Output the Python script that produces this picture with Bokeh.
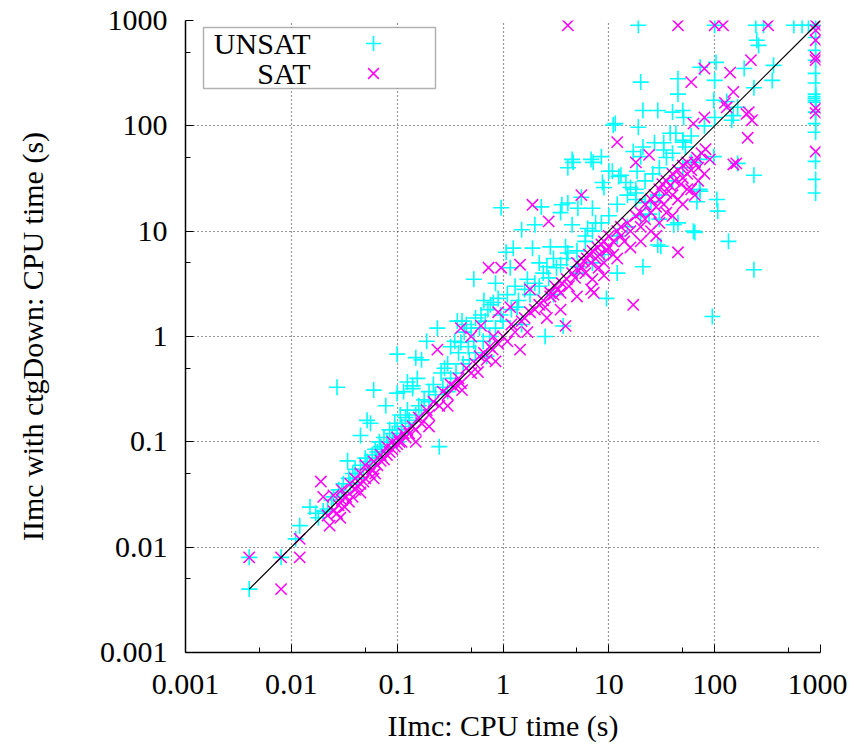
from bokeh.plotting import figure
from bokeh.models import FixedTicker, Legend, LegendItem, BoxAnnotation, Label, ColumnDataSource
from bokeh.embed import file_html
from bokeh.resources import INLINE

# ---------------- data ----------------
tick_values = [0.001, 0.01, 0.1, 1, 10, 100, 1000]
tick_labels = ["0.001", "0.01", "0.1", "1", "10", "100", "1000"]
minor_tick_values = [0.005, 0.05, 0.5, 5, 50, 500]

diag_x = [0.004, 1000]
diag_y = [0.004, 1000]

unsat_points = [
    (0.004, 0.004), (0.004, 0.008), (0.008, 0.008), (0.011, 0.012), (0.012, 0.016),
    (0.015, 0.024), (0.017, 0.021), (0.018, 0.019), (0.022, 0.023), (0.027, 0.33),
    (0.025, 0.03), (0.028, 0.035), (0.031, 0.04), (0.034, 0.066), (0.035, 0.045),
    (0.038, 0.05), (0.04, 0.055), (0.042, 0.045), (0.045, 0.115), (0.045, 0.06),
    (0.05, 0.07), (0.052, 0.16), (0.052, 0.065), (0.056, 0.15), (0.058, 0.075),
    (0.06, 0.31), (0.062, 0.085), (0.065, 0.08), (0.068, 0.1), (0.07, 0.09),
    (0.075, 0.11), (0.078, 0.22), (0.08, 0.1), (0.085, 0.13), (0.09, 0.12),
    (0.095, 0.15), (0.1, 0.68), (0.1, 0.29), (0.1, 0.13), (0.107, 0.18),
    (0.11, 0.14), (0.115, 0.3), (0.12, 0.17), (0.125, 0.2), (0.125, 0.37),
    (0.13, 0.16), (0.14, 0.32), (0.14, 0.34), (0.15, 0.63), (0.155, 0.4),
    (0.16, 0.22), (0.17, 0.6), (0.18, 0.25), (0.19, 0.9), (0.2, 0.3),
    (0.22, 0.35), (0.24, 1.2), (0.25, 0.09), (0.26, 0.45), (0.28, 0.5),
    (0.3, 0.55), (0.32, 0.8), (0.35, 0.9), (0.37, 1.4), (0.38, 0.7),
    (0.4, 0.88), (0.41, 1.4), (0.43, 1.1), (0.45, 1.3), (0.47, 0.8),
    (0.5, 1.2), (0.53, 3.5), (0.53, 0.9), (0.55, 1.5), (0.6, 1.2),
    (0.62, 1.6), (0.66, 2.2), (0.68, 1.4), (0.72, 1.8), (0.76, 2.0),
    (0.81, 2.1), (0.85, 3.2), (0.9, 2.3), (0.95, 1.6),
    (0.96, 16.7), (1.07, 6.3), (1.1, 2.5), (1.17, 4.5), (1.25, 6.9),
    (1.3, 3.0), (1.36, 1.9), (1.5, 10.3), (1.6, 2.8), (1.7, 3.5),
    (1.9, 6.9), (2.0, 11.5), (2.0, 3.2), (2.2, 5.0), (2.3, 17),
    (2.4, 4.0), (2.5, 1.0), (2.6, 4.6), (2.8, 7.1), (3.0, 5.5),
    (3.5, 15), (3.5, 4.8), (3.6, 17.8), (3.7, 1.26), (3.9, 7.1),
    (4.1, 18.5), (4.1, 40), (4.1, 6.2), (4.5, 11.5), (4.5, 48),
    (4.6, 45), (5.1, 16.5), (5.1, 4.6), (5.5, 21), (6.0, 9.0),
    (6.3, 10.6), (6.8, 48), (7.0, 16.5), (7.1, 45), (7.5, 12),
    (8.5, 51), (8.7, 29), (9.0, 26), (9.5, 2.3), (10, 37),
    (10.8, 37), (11, 102), (11.5, 105), (12, 4.0), (12.4, 33),
    (13, 34), (14.5, 29), (16, 26), (17, 57), (18, 20),
    (18, 23), (18.5, 37), (19, 97), (19, 900), (20, 260),
    (20, 51), (21, 140), (21, 63), (21, 4.6), (22, 18.6),
    (24, 14.5), (27, 69), (29, 140), (29, 7.4), (30, 13),
    (31, 7.2), (33, 69), (33, 59), (38, 85), (40, 135),
    (41, 11.5), (43, 85), (45, 280), (45, 200), (45, 12),
    (50, 140), (50, 73), (51, 120), (53, 63), (63, 10),
    (65, 9.7), (68, 19), (72, 25), (73, 360), (73, 48),
    (73, 24), (95, 1.55), (98, 175), (98, 51), (100, 900),
    (100, 270), (103, 400), (105, 20), (107, 15.5), (135, 8),
    (145, 113), (150, 125), (165, 150), (165, 44), (190, 350),
    (235, 230), (235, 34), (235, 4.3), (245, 900), (250, 650),
    (260, 580), (290, 900), (350, 270), (360, 375), (560, 900),
    (670, 900), (770, 900),
    (900, 900), (900, 690), (900, 520), (900, 420), (900, 315), (900, 255),
    (900, 200), (900, 190), (900, 183), (900, 175), (900, 168), (900, 135),
    (900, 105), (900, 87), (900, 46), (900, 31), (900, 23),
    (0.02, 0.022), (0.024, 0.028), (0.03, 0.033), (0.036, 0.04), (0.048, 0.055),
    (0.055, 0.06), (0.063, 0.07), (0.072, 0.08), (0.082, 0.09), (0.092, 0.1),
    (0.11, 0.12), (0.13, 0.15), (0.15, 0.18), (0.17, 0.2), (0.2, 0.24),
    (0.23, 0.28), (0.27, 0.33), (0.32, 0.4), (0.36, 0.45), (0.42, 0.55),
    (0.48, 0.6), (0.55, 0.7), (0.65, 0.9), (0.75, 1.0), (0.85, 1.2),
    (1.0, 1.4), (1.2, 1.8), (1.4, 2.2), (1.8, 2.5), (2.2, 3.0),
    (2.7, 3.6), (3.2, 4.5), (4.0, 5.5), (5.0, 6.5), (6.0, 8.0),
    (7.0, 10), (8.5, 12), (10, 14), (12, 18), (15, 22),
    (18, 25), (22, 30), (26, 35), (30, 40), (35, 50),
    (40, 55), (50, 70), (60, 80), (80, 100), (100, 120), (130, 170),
    (7, 5), (9, 6), (12, 9), (15, 11), (20, 14), (25, 19), (30, 22),
    (40, 30), (50, 40), (60, 45), (3, 2.5), (5, 4), (1.5, 1.3),
    (0.7, 0.65), (0.3, 0.3), (0.1, 0.1),
]

sat_points = [
    (0.004, 0.008), (0.008, 0.008), (0.008, 0.004), (0.012, 0.008), (0.012, 0.012),
    (0.019, 0.042), (0.02, 0.03), (0.022, 0.02), (0.023, 0.016), (0.025, 0.031),
    (0.025, 0.022), (0.027, 0.021), (0.028, 0.025), (0.029, 0.019), (0.03, 0.028),
    (0.03, 0.035), (0.032, 0.024), (0.033, 0.03), (0.035, 0.027), (0.036, 0.04),
    (0.038, 0.03), (0.04, 0.035), (0.04, 0.045), (0.042, 0.038), (0.045, 0.04),
    (0.045, 0.05), (0.048, 0.042), (0.05, 0.06), (0.05, 0.045), (0.055, 0.05),
    (0.058, 0.055), (0.06, 0.065), (0.062, 0.05), (0.065, 0.06), (0.07, 0.066),
    (0.07, 0.075), (0.075, 0.068), (0.08, 0.075), (0.08, 0.09), (0.085, 0.08),
    (0.09, 0.085), (0.09, 0.1), (0.095, 0.09), (0.1, 0.095), (0.1, 0.11),
    (0.105, 0.1), (0.11, 0.1), (0.115, 0.12), (0.12, 0.11), (0.125, 0.13),
    (0.13, 0.12), (0.14, 0.14), (0.15, 0.13), (0.16, 0.17), (0.17, 0.15),
    (0.19, 0.2), (0.2, 0.18), (0.22, 0.24), (0.24, 0.75), (0.25, 0.22),
    (0.27, 0.3), (0.3, 0.28), (0.32, 0.35), (0.35, 0.33), (0.38, 0.4),
    (0.4, 0.36), (0.41, 0.31), (0.4, 1.2), (0.45, 0.5), (0.5, 0.45),
    (0.5, 1.0), (0.55, 0.55), (0.58, 0.46), (0.6, 0.65), (0.62, 1.26),
    (0.66, 0.7), (0.7, 0.6), (0.73, 4.5), (0.75, 0.8), (0.8, 0.75),
    (0.81, 1.0), (0.85, 0.58), (0.9, 1.7), (0.9, 0.85), (0.96, 4.5),
    (1.0, 1.0), (1.1, 0.9), (1.17, 1.9), (1.2, 1.3), (1.3, 1.1),
    (1.45, 0.75), (1.45, 4.8), (1.5, 1.4), (1.6, 1.5), (1.7, 1.1),
    (1.8, 2.8), (1.8, 1.7), (1.9, 17.8), (2.0, 1.8), (2.2, 2.0),
    (2.4, 2.2), (2.5, 1.9), (2.7, 12.4), (2.8, 2.4), (2.8, 2.6),
    (3.0, 2.5), (3.1, 3.0), (3.3, 2.8), (3.5, 2.6), (3.6, 3.2),
    (3.9, 1.26), (4.0, 3.5), (4.1, 900), (4.2, 3.0), (4.5, 4.0),
    (4.8, 3.6), (5.0, 5.0), (5.2, 4.2), (5.5, 22), (5.5, 4.6),
    (5.8, 5.2), (6.0, 4.0), (6.2, 5.5), (6.5, 6.0), (6.8, 2.8),
    (6.8, 5.0), (7.0, 6.5), (7.2, 2.6), (7.5, 5.5), (7.8, 7.0),
    (8.0, 4.5), (8.2, 6.0), (8.5, 7.5), (9.0, 5.0), (9.0, 8.0),
    (9.5, 6.5), (10, 7.0), (10, 9.0), (11, 8.0), (11, 6.0),
    (12, 70), (12, 10), (13, 9.0), (13, 11), (14, 8.0),
    (15, 12), (16, 10), (17, 2.0), (18, 45), (18, 14),
    (20, 15), (20, 11), (22, 18), (22, 13), (24, 53),
    (25, 20), (25, 15), (27, 22), (28, 17), (30, 25),
    (30, 20), (32, 28), (33, 18), (35, 30), (35, 23),
    (38, 27), (40, 35), (40, 22), (42, 30), (45, 6.3),
    (45, 38), (45, 900), (48, 28), (50, 32), (50, 42),
    (55, 35), (55, 45), (60, 260), (60, 38), (63, 105),
    (65, 45), (68, 50), (70, 40), (75, 55), (80, 350),
    (80, 120), (82, 60), (90, 48), (100, 900), (120, 900),
    (125, 165), (130, 150), (140, 320), (150, 210), (150, 43),
    (160, 44), (200, 130), (205, 77), (210, 135), (220, 420),
    (225, 113), (320, 900), (900, 900),
    (900, 805), (900, 650), (900, 450), (900, 420), (900, 147), (900, 132), (900, 57),
    (20, 8), (25, 10), (30, 12), (35, 15), (40, 14), (50, 18), (60, 25),
    (70, 30), (80, 35), (45, 20), (55, 25), (28, 9), (65, 22), (16, 7),
    (12, 5.5), (9, 3.8), (7, 3.5), (5, 2.4), (3.5, 1.8), (2.6, 1.5),
    (0.3, 0.22), (0.2, 0.14), (0.15, 0.1), (0.06, 0.045), (0.045, 0.033),
]

unsat_x = [pt[0] for pt in unsat_points]
unsat_y = [pt[1] for pt in unsat_points]
sat_x = [pt[0] for pt in sat_points]
sat_y = [pt[1] for pt in sat_points]

series_names = ["UNSAT", "SAT"]
x_title = "IImc: CPU time (s)"
y_title = "IImc with ctgDown: CPU time (s)"

# ---------------- figure ----------------
FONT = "Liberation Serif"
FSIZE = "30px"

p = figure(width=847, height=744,
           x_axis_type="log", y_axis_type="log",
           x_range=(0.001, 1000), y_range=(0.001, 1000),
           output_backend="svg", toolbar_location=None,
           min_border_left=185, min_border_right=27,
           min_border_top=20, min_border_bottom=89)
p.outline_line_color = None
p.background_fill_color = "white"

overrides = {v: s for v, s in zip(tick_values, tick_labels)}
for ax in (p.xaxis[0], p.yaxis[0]):
    ax.ticker = FixedTicker(ticks=tick_values, minor_ticks=minor_tick_values)
    ax.major_label_overrides = overrides
    ax.axis_line_color = "black"
    ax.axis_line_width = 1.5
    ax.major_tick_in = 8
    ax.major_tick_out = 0
    ax.minor_tick_in = 5
    ax.minor_tick_out = 0
    ax.major_tick_line_color = "black"
    ax.minor_tick_line_color = "black"
    ax.major_label_text_font = FONT
    ax.major_label_text_font_size = FSIZE
    ax.major_label_text_color = "black"
    ax.axis_label_text_font = FONT
    ax.axis_label_text_font_size = FSIZE
    ax.axis_label_text_font_style = "normal"
    ax.axis_label_text_color = "black"

p.xaxis.axis_label = x_title
p.yaxis.axis_label = y_title
p.xaxis.major_label_standoff = 22
p.xaxis.axis_label_standoff = 12
p.yaxis.major_label_standoff = 18
p.yaxis.axis_label_standoff = 48

for g in (p.xgrid[0], p.ygrid[0]):
    g.grid_line_color = "#333333"
    g.grid_line_dash = "1 3"
    g.grid_line_width = 1.2
    g.grid_line_alpha = 1.0

src_u = ColumnDataSource(dict(x=unsat_x, y=unsat_y))
src_s = ColumnDataSource(dict(x=sat_x, y=sat_y))

r_u = p.scatter("x", "y", source=src_u, marker="cross", size=16,
                line_color="#00FFFF", line_width=1.6)
r_s = p.scatter("x", "y", source=src_s, marker="x", size=16,
                line_color="#FF00FF", line_width=1.5)
p.line(diag_x, diag_y, line_color="black", line_width=1.2)

# ---------------- gnuplot-style key (text left, sample right) ----------------
box = BoxAnnotation(left=18, right=250, top=625, bottom=564,
                    left_units="screen", right_units="screen",
                    top_units="screen", bottom_units="screen",
                    fill_color="white", fill_alpha=1.0,
                    line_color="black", line_width=1.5, level="overlay")
p.add_layout(box)

for name, yc in zip(series_names, [609, 579]):
    p.add_layout(Label(x=125, y=yc, x_units="screen", y_units="screen",
                       text=name, text_align="right", text_baseline="middle",
                       text_font=FONT, text_font_size=FSIZE, text_color="black",
                       level="overlay"))

for rend, yc in zip([r_u, r_s], [609, 579]):
    leg = Legend(items=[LegendItem(label=" ", renderers=[rend])],
                 location=(169, yc - 19), padding=0, margin=0, spacing=0,
                 glyph_width=38, glyph_height=38, label_standoff=0,
                 label_height=38, label_width=1, label_text_font_size="1px",
                 border_line_color=None, background_fill_alpha=0.0)
    p.add_layout(leg, "center")

open("out.html", "w").write(file_html(p, INLINE))
